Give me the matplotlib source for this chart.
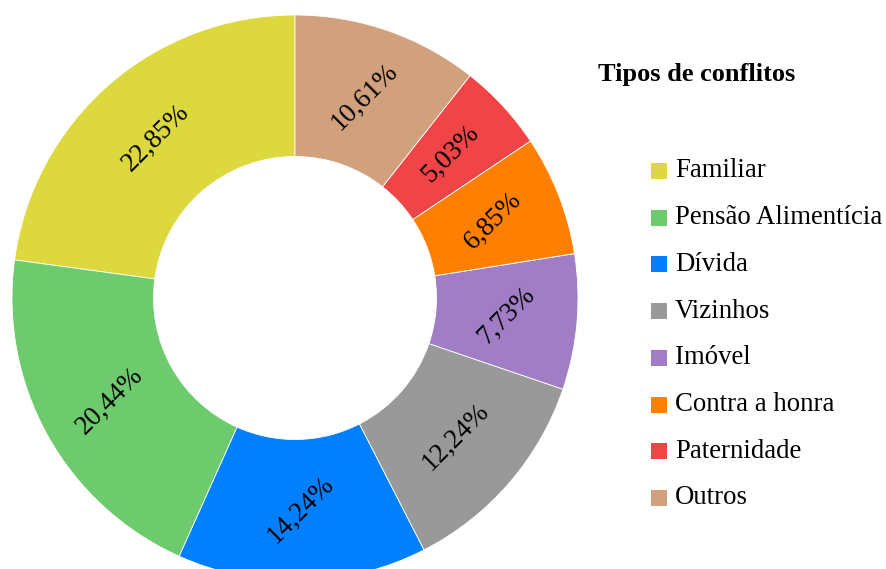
import matplotlib
matplotlib.use("Agg")
import matplotlib.pyplot as plt
from matplotlib.patches import Rectangle
import numpy as np

# Dados do gráfico
categorias = ['Familiar', 'Pensão Alimentícia', 'Dívida', 'Vizinhos',
              'Imóvel', 'Contra a honra', 'Paternidade', 'Outros']
percentuais = [22.85, 20.44, 14.24, 12.24, 7.73, 6.85, 5.03, 10.61]
cores = ['#DCD83E', '#6DCB6D', '#0080FF', '#999999',
         '#A07DC4', '#FF8000', '#F04446', '#D1A07C']

plt.rcParams['font.family'] = ['Liberation Serif', 'DejaVu Serif']

W, H = 887, 569
fig = plt.figure(figsize=(W / 100, H / 100), dpi=100)

# eixo do donut (centro ~ (295, 298) px, raio ~283 px)
cx, cy, r = 295, 298, 283
ax = fig.add_axes([(cx - r) / W, (H - cy - r) / H, 2 * r / W, 2 * r / H])

wedges, _ = ax.pie(percentuais, colors=cores, startangle=90, counterclock=True,
                   radius=1, wedgeprops=dict(width=0.5, edgecolor='white', linewidth=0.6))
ax.set_xlim(-1, 1)
ax.set_ylim(-1, 1)
ax.set_aspect('equal')
ax.axis('off')

# rótulos de percentual, todos inclinados a 45 graus
for w, p in zip(wedges, percentuais):
    ang = np.deg2rad((w.theta1 + w.theta2) / 2)
    x, y = 0.75 * np.cos(ang), 0.75 * np.sin(ang)
    texto = f'{p:.2f}%'.replace('.', ',')
    ax.text(x, y, texto, ha='center', va='center', rotation=45,
            rotation_mode='anchor', fontsize=19.5, color='black')

# legenda manual
fig.text(598 / W, 1 - 75 / H, 'Tipos de conflitos', fontsize=19,
         fontweight='bold', ha='left', va='center')
y0, passo = 171, 46.7
for i, (nome, cor) in enumerate(zip(categorias, cores)):
    yc = y0 + i * passo
    fig.patches.append(Rectangle((651 / W, 1 - (yc + 8) / H), 16 / W, 16 / H,
                                 transform=fig.transFigure, facecolor=cor,
                                 edgecolor='none'))
    fig.text(675 / W, 1 - yc / H, nome, fontsize=19.3, ha='left', va='center')

fig.savefig('out.png', dpi=100)
